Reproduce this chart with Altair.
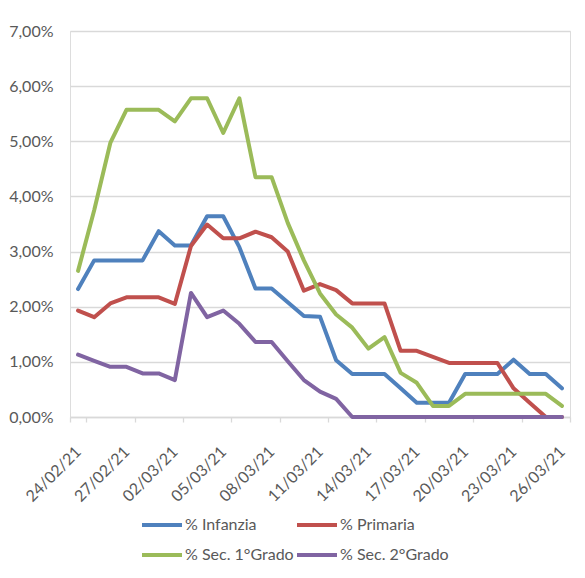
import altair as alt
import pandas as pd

dates = ["24/02/21", "25/02/21", "26/02/21", "27/02/21", "28/02/21",
         "01/03/21", "02/03/21", "03/03/21", "04/03/21", "05/03/21",
         "06/03/21", "07/03/21", "08/03/21", "09/03/21", "10/03/21",
         "11/03/21", "12/03/21", "13/03/21", "14/03/21", "15/03/21",
         "16/03/21", "17/03/21", "18/03/21", "19/03/21", "20/03/21",
         "21/03/21", "22/03/21", "23/03/21", "24/03/21", "25/03/21",
         "26/03/21"]

infanzia = [2.32, 2.84, 2.84, 2.84, 2.84, 3.37, 3.11, 3.11, 3.64, 3.64,
            3.08, 2.33, 2.33, 2.08, 1.83, 1.82, 1.03, 0.78, 0.78, 0.78,
            0.52, 0.26, 0.26, 0.26, 0.78, 0.78, 0.78, 1.04, 0.78, 0.78,
            0.52]
primaria = [1.93, 1.81, 2.06, 2.17, 2.17, 2.17, 2.05, 3.10, 3.49, 3.24,
            3.24, 3.36, 3.26, 3.00, 2.29, 2.41, 2.30, 2.06, 2.06, 2.06,
            1.20, 1.20, 1.09, 0.98, 0.98, 0.98, 0.98, 0.52, 0.26, 0.00,
            0.00]
sec1 = [2.65, 3.75, 4.97, 5.57, 5.57, 5.57, 5.36, 5.78, 5.78, 5.15,
        5.78, 4.35, 4.35, 3.52, 2.84, 2.24, 1.86, 1.62, 1.24, 1.45,
        0.80, 0.62, 0.20, 0.20, 0.42, 0.42, 0.42, 0.42, 0.42, 0.42,
        0.20]
sec2 = [1.13, 1.02, 0.91, 0.91, 0.79, 0.79, 0.67, 2.25, 1.81, 1.93,
        1.69, 1.36, 1.36, 1.01, 0.67, 0.46, 0.33, 0.00, 0.00, 0.00,
        0.00, 0.00, 0.00, 0.00, 0.00, 0.00, 0.00, 0.00, 0.00, 0.00,
        0.00]

series_names = ["% Infanzia", "% Primaria", "% Sec. 1°Grado", "% Sec. 2°Grado"]
series_values = [infanzia, primaria, sec1, sec2]
colors = ["#4F81BD", "#C0504D", "#9BBB59", "#8064A2"]
y_ticks = [0, 0.01, 0.02, 0.03, 0.04, 0.05, 0.06, 0.07]

rows = []
for name, vals in zip(series_names, series_values):
    for d, v in zip(dates, vals):
        rows.append({"date": d, "serie": name, "value": v / 100.0})
df = pd.DataFrame(rows)

FONT = "Lato"
GREY = "#595959"
FS = 16

chart = alt.Chart(df).mark_line(
    strokeWidth=4, strokeJoin="round", strokeCap="round"
).encode(
    x=alt.X(
        "date:O",
        sort=dates,
        bandPosition=0.5,
        scale=alt.Scale(type="band", paddingInner=0, paddingOuter=0),
        axis=alt.Axis(
            title=None,
            values=dates[::3],
            tickBand="extent",
            grid=False,
            domainColor="#d9d9d9",
            domainWidth=1.3,
            tickColor="#d9d9d9",
            tickWidth=1.3,
            tickSize=5,
            labelAngle=-45,
            labelAlign="right",
            labelBaseline="middle",
            labelPadding=27,
            labelOffset=0,
            labelFont=FONT,
            labelFontSize=FS,
            labelColor=GREY,
        ),
    ),
    y=alt.Y(
        "value:Q",
        scale=alt.Scale(domain=[0, 0.07], nice=False),
        axis=alt.Axis(
            title=None,
            values=y_ticks,
            labelExpr="replace(format(datum.value, '.2%'), '.', ',')",
            domain=False,
            ticks=False,
            tickSize=0,
            labelPadding=17,
            grid=True,
            gridColor="#d9d9d9",
            gridWidth=1.3,
            labelFont=FONT,
            labelFontSize=FS,
            labelColor=GREY,
        ),
    ),
    color=alt.Color(
        "serie:N",
        sort=series_names,
        scale=alt.Scale(domain=series_names, range=colors),
        legend=alt.Legend(
            title=None,
            orient="none",
            legendX=70,
            legendY=472,
            columns=2,
            direction="horizontal",
            symbolType="stroke",
            symbolSize=1600,
            symbolStrokeWidth=4,
            labelOffset=1,
            columnPadding=-5,
            rowPadding=-6,
            padding=0,
            labelFont=FONT,
            labelFontSize=FS,
            labelColor=GREY,
        ),
    ),
).properties(
    width=500,
    height=386,
    padding={"left": 62, "top": 23, "right": 7, "bottom": 160},
    autosize=alt.AutoSizeParams(type="none"),
).configure_view(stroke=None).configure(background="white")

chart.save("out.html", embed_options={"renderer": "svg", "actions": False})
